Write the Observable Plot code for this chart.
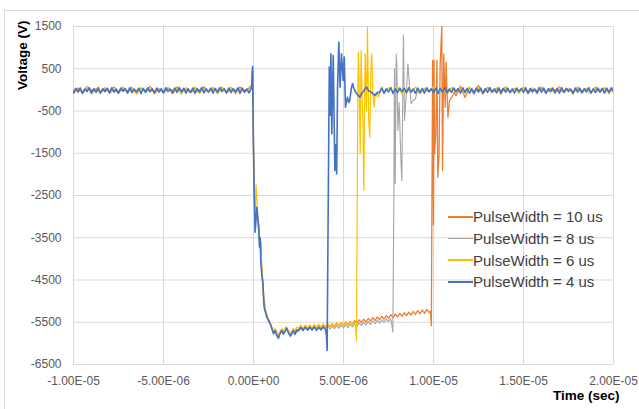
<!DOCTYPE html>
<html>
<head>
<meta charset="utf-8">
<script src="https://cdn.jsdelivr.net/npm/d3@7"></script>
<script src="https://cdn.jsdelivr.net/npm/@observablehq/plot@0.6"></script>
<style>
  html, body { margin: 0; padding: 0; background: #fff; }
  #wrap { position: relative; width: 639px; height: 409px; overflow: hidden; font-family: "Liberation Sans", Arial, sans-serif; }
  #border { position: absolute; left: 4px; top: 10px; width: 700px; height: 500px; border: 1px solid #D9D9D9; box-sizing: border-box; }
  #chart { position: absolute; left: 0; top: 0; }
  #legend { position: absolute; left: 448px; top: 206px; }
  .row { height: 21.7px; display: flex; align-items: center; font-size: 15px; color: #404040; white-space: nowrap; }
  .sw { width: 25px; height: 1.5px; display: inline-block; }
</style>
</head>
<body>
<div id="wrap">
  <div id="border"></div>
  <div id="chart"></div>
  <div id="legend"></div>
</div>
<script>
// ---------- data (time in microseconds, voltage in V) ----------
const seriesNames = ["PulseWidth = 10 us", "PulseWidth = 8 us", "PulseWidth = 6 us", "PulseWidth = 4 us"];
const seriesColors = ["#ED7D31", "#A5A5A5", "#FFC000", "#4472C4"];
const xTicks = [-1e-5, -5e-6, 0, 5e-6, 1e-5, 1.5e-5, 2e-5];
const yTicks = [1500, 500, -500, -1500, -2500, -3500, -4500, -5500, -6500];
const fineStep = 0.125;  // us
const coarseStep = 0.25; // us

// pre-trigger baselines starting at t = -10 us
const pre10 = [-20,40,-60,75,-10,30,-50,20,-30,70,-45,10,-25,55,-70,35,-15,80,-40,25,-55,45,-20,65,-35,15,-60,50,-10,75,-45,30,-25,60,-65,20,-35,70,-15,40];
const pre8  = [-50,10,-70,35,-40,-10,-60,45,-30,5,-75,30,-45,15,-55,40,-65,0,-35,25,-80,35,-50,10,-40,45,-60,-5,-70,30,-45,20,-55,40,-35,5,-65,30,-50,15];
const pre6  = [-95,20,-40,70,-100,35,-30,60,-90,10,-55,75,-85,25,-105,50,-35,65,-95,15,-45,70,-90,30,-100,55,-40,75,-85,20,-50,65,-95,40,-35,70,-100,25,-60,60];
const pre4  = [-70,35,-50,45,-85,20,-40,50,-75,30,-60,55,-80,25,-45,40,-70,50,-55,15,
               -80,45,-35,30,-75,55,-65,20,-50,40,-85,35,-60,50,-45,25,-75,45,-55,30,
               -70,50,-40,20,-80,40,-60,55,-50,35,-75,25,-65,45,-85,30,-45,50,-70,20,
               -55,40,-80,35,-60,55,-40,25,-75,45,-65,30,-50,50,-85,40,-55,20,-70,35];

// falling edge transients [t, v]
const edge10 = [[-0.1,110],[-0.05,500],[0,-1350],[0.05,-2550],[0.1,-3250],[0.15,-2900],[0.2,-2850],[0.25,-3150],[0.3,-3300],[0.35,-3650],[0.4,-3600],[0.45,-4150],[0.5,-4500],[0.57,-4950],[0.65,-5220],[0.75,-5330],[0.85,-5480],[0.95,-5560],[1.05,-5660],[1.15,-5740],[1.25,-5700],[1.35,-5810],[1.45,-5760],[1.55,-5690],[1.65,-5740],[1.75,-5680],[1.85,-5640],[1.95,-5720],[2.05,-5770],[2.15,-5730],[2.25,-5680],[2.35,-5740]];
const edge8 = [[-0.1,90],[-0.05,520],[0,-1400],[0.05,-2500],[0.1,-3300],[0.15,-2950],[0.2,-2800],[0.25,-3100],[0.3,-3250],[0.35,-3700],[0.4,-3550],[0.45,-4200],[0.5,-4450],[0.57,-5000],[0.65,-5200],[0.75,-5350],[0.85,-5470],[0.95,-5550],[1.05,-5680],[1.15,-5750],[1.25,-5690],[1.35,-5840],[1.45,-5780],[1.55,-5700],[1.65,-5760],[1.75,-5690],[1.85,-5650],[1.95,-5740],[2.05,-5790],[2.15,-5740],[2.25,-5690],[2.35,-5760]];
const edge6 = [[-0.1,80],[-0.05,480],[0,-1300],[0.05,-2600],[0.1,-2900],[0.14,-2250],[0.19,-2600],[0.24,-3200],[0.3,-3400],[0.35,-3750],[0.4,-3600],[0.45,-4150],[0.52,-4500],[0.57,-4900],[0.63,-5050],[0.7,-5300],[0.8,-5400],[0.9,-5480],[1.0,-5600],[1.1,-5700],[1.2,-5640],[1.3,-5770],[1.4,-5800],[1.5,-5700],[1.6,-5650],[1.7,-5720],[1.8,-5600],[1.9,-5700],[2.0,-5750],[2.1,-5720],[2.2,-5640],[2.3,-5700],[2.4,-5620]];
const edge4 = [[-0.1,100],[-0.05,553],[0,-1435],[0.04,-2460],[0.09,-3368],[0.14,-3000],[0.19,-2777],[0.24,-3050],[0.28,-3170],[0.33,-3720],[0.37,-3500],[0.41,-4110],[0.47,-4400],[0.52,-4580],[0.59,-5143],[0.66,-5250],[0.74,-5380],[0.82,-5450],[0.93,-5537],[1.02,-5650],[1.11,-5775],[1.2,-5700],[1.3,-5820],[1.39,-5880],[1.48,-5760],[1.57,-5695],[1.66,-5780],[1.75,-5720],[1.85,-5640],[1.95,-5760],[2.05,-5830],[2.13,-5775],[2.22,-5700],[2.3,-5790],[2.41,-5680]];

// pulse plateau ramps, starting at t = 2.5 us (fine step)
const ramp10 = [-5685,-5610,-5670,-5605,-5660,-5590,-5650,-5585,-5640,-5570,-5625,-5565,-5620,-5545,-5605,-5535,-5600,-5520,-5585,-5510,
                -5575,-5495,-5560,-5480,-5545,-5460,-5525,-5445,-5510,-5425,-5495,-5410,-5475,-5390,-5460,-5375,-5440,-5355,-5425,-5340,
                -5405,-5320,-5390,-5305,-5375,-5290,-5360,-5275,-5345,-5260,-5330,-5245,-5315,-5225,-5300,-5210,-5290,-5195,-5270];
const ramp8  = [-5695,-5625,-5690,-5620,-5685,-5615,-5680,-5610,-5675,-5605,-5670,-5600,-5665,-5595,-5660,-5590,-5650,-5580,-5645,-5570,
                -5635,-5560,-5625,-5545,-5610,-5530,-5595,-5515,-5580,-5500,-5565,-5485,-5550,-5470,-5535,-5455,-5520,-5440,-5505,-5425,-5490];
const ramp6  = [-5645,-5570,-5640,-5565,-5635,-5560,-5630,-5550,-5620,-5545,-5615,-5535,-5610,-5530,-5600,-5520,-5590,-5510,-5585,-5505,-5575,-5495,-5565,-5485,-5555];
const ramp4  = [-5700,-5625,-5695,-5615,-5690,-5620,-5685,-5610,-5690,-5625,-5680,-5615,-5670];

// rising edge ringing [t, v]
const ring10 = [[9.83,-5240],[9.88,-5577],[9.91,-3000],[9.95,695],[10.0,-3200],[10.03,695],[10.06,-1510],[10.13,-1000],[10.19,695],[10.24,-2070],[10.31,-1510],[10.37,620],[10.46,1500],[10.5,-1910],[10.57,854],[10.65,-410],[10.7,655],[10.8,-650],[10.89,-250],[11.02,-170],[11.15,-50]];
const ring8  = [[7.6,-5420],[7.65,-5460],[7.74,-5735],[7.8,-2500],[7.83,500],[7.87,-2220],[7.93,854],[7.96,600],[8.02,-960],[8.09,-300],[8.19,-1670],[8.24,-2145],[8.33,1300],[8.39,-725],[8.48,-173],[8.58,620],[8.67,64],[8.76,-330],[8.85,-250],[8.98,-220],[9.1,-50]];
const ring6  = [[5.65,-5500],[5.72,-5930],[5.8,200],[5.83,892],[5.89,-410],[5.93,-1500],[5.98,932],[6.04,-300],[6.08,-725],[6.13,-2380],[6.2,854],[6.28,-490],[6.33,1484],[6.4,-725],[6.46,-1120],[6.52,459],[6.57,854],[6.63,-93],[6.7,-410],[6.76,-93],[6.82,-150],[6.9,-60],[6.94,-173],[7.0,-90],[7.13,64]];
const ring4  = [[4.05,-5800],[4.09,-6170],[4.21,540],[4.26,-600],[4.3,854],[4.35,-1040],[4.43,814],[4.52,-1910],[4.58,-1300],[4.62,-1990],[4.67,64],[4.74,1130],[4.81,64],[4.89,854],[4.98,222],[5.04,775],[5.11,-410],[5.22,-173],[5.3,-300],[5.35,-250],[5.43,20],[5.5,150],[5.57,50],[5.63,-15],[5.75,-100],[5.91,-173],[6.0,-90],[6.09,-50],[6.18,20],[6.28,64],[6.4,-20],[6.56,-60],[6.65,-100],[6.74,-130],[6.89,-60]];

// post-pulse baselines
const post10Start = 11.25, post8Start = 9.25, post6Start = 7.25, post4Start = 7.0;
const post10 = [-140,90,-180,60,-100,104,-90,55,-70,45,-20,70,-60,30,-45,65,-75,15,-30,55,-65,40,-10,75,-50,25,-70,60,-35,20,-55,70,-25,45,-60,35];
const post8  = [-60,20,-50,45,-70,10,-40,40,-65,0,-50,35,-75,15,-45,50,-60,5,-40,30,-70,20,-55,45,-65,10,-35,40,-75,25,-50,5,-60,35,-45,15,-70,40,-55,20,-65,30,-40,10];
const post6  = [-90,50,-40,70,-100,30,-50,65,-95,40,-35,75,-80,25,-105,60,-45,45,-90,70,-40,30,-95,65,-55,35,-100,70,-45,40,-85,60,-30,50,-95,75,-40,30,-90,65,-50,40,-100,70,-35,25,-85,60,-45,45,-95,70];
const post4  = [-60,40,-75,30,-50,55,-85,25,-65,45,-40,35,-70,50,-55,20,-80,45,-60,30,
                -75,50,-45,25,-65,40,-85,35,-50,55,-70,20,-60,45,-40,30,-80,50,-55,35,
                -75,25,-65,45,-50,40,-85,30,-60,55,-45,20,-70,50,-80,35,-55,40,-65,25,
                -75,45,-40,30,-60,50,-85,35,-50,20,-70,55,-55,40,-80,25,-45,45,-65,30,
                -75,50,-60,35,-40,20,-85,45,-55,40,-70,30,-50,55,-80,25,-65,45,-45,35,
                -75,40,-60,50,-55];

// ---------- build ----------
function seg(t0, dt, vals) { return vals.map((v, i) => [t0 + i * dt, v]); }
function build(pre, preStep, edge, ramp, ring, postStart, post, postStep) {
  return [...seg(-10, preStep, pre), ...edge, ...seg(2.5, fineStep, ramp), ...ring, ...seg(postStart, postStep, post)]
    .map(([t, v]) => ({x: t * 1e-6, y: v}));
}
const series = [
  build(pre10, coarseStep, edge10, ramp10, ring10, post10Start, post10, coarseStep),
  build(pre8, coarseStep, edge8, ramp8, ring8, post8Start, post8, coarseStep),
  build(pre6, coarseStep, edge6, ramp6, ring6, post6Start, post6, coarseStep),
  build(pre4, fineStep, edge4, ramp4, ring4, post4Start, post4, fineStep)
];
const widths = [1.3, 1.1, 1.2, 1.6];

function fmtE(s) {
  const [m, e] = s.toExponential(2).split("e");
  const n = +e;
  return m + "E" + (n < 0 ? "-" : "+") + String(Math.abs(n)).padStart(2, "0");
}

const chart = Plot.plot({
  width: 639, height: 409,
  marginLeft: 73, marginRight: 26, marginTop: 26, marginBottom: 45,
  style: {fontFamily: "'Liberation Sans', Arial, sans-serif", fontSize: "12px", color: "#595959", background: "transparent", overflow: "visible"},
  x: {domain: [-1e-5, 2e-5]},
  y: {domain: [-6500, 1500]},
  marks: [
    Plot.gridX(xTicks, {stroke: "#D9D9D9", strokeOpacity: 1}),
    Plot.gridY(yTicks, {stroke: "#D9D9D9", strokeOpacity: 1}),
    Plot.axisX(xTicks, {tickSize: 0, tickPadding: 12, tickFormat: fmtE, label: null, fill: "#595959"}),
    Plot.axisY(yTicks, {tickSize: 0, tickPadding: 12, tickFormat: d => String(d), label: null, fill: "#595959"}),
    ...series.map((s, i) => Plot.line(s, {x: "x", y: "y", stroke: seriesColors[i], strokeWidth: widths[i], clip: true})),
    Plot.text(["Voltage (V)"], {text: d => d, frameAnchor: "top-left", dx: -56, dy: -6, rotate: -90, textAnchor: "end", fontWeight: "bold", fontSize: 13.5, fill: "#000"}),
    Plot.text(["Time (sec)"], {text: d => d, frameAnchor: "bottom-right", dx: 6, dy: 35, textAnchor: "end", fontWeight: "bold", fontSize: 13.5, fill: "#000"})
  ]
});
document.getElementById("chart").appendChild(chart);

const legend = document.getElementById("legend");
seriesNames.forEach((name, i) => {
  const row = document.createElement("div");
  row.className = "row";
  const sw = document.createElement("span");
  sw.className = "sw";
  sw.style.background = seriesColors[i];
  const tx = document.createElement("span");
  tx.textContent = name;
  row.appendChild(sw);
  row.appendChild(tx);
  legend.appendChild(row);
});
</script>
</body>
</html>
